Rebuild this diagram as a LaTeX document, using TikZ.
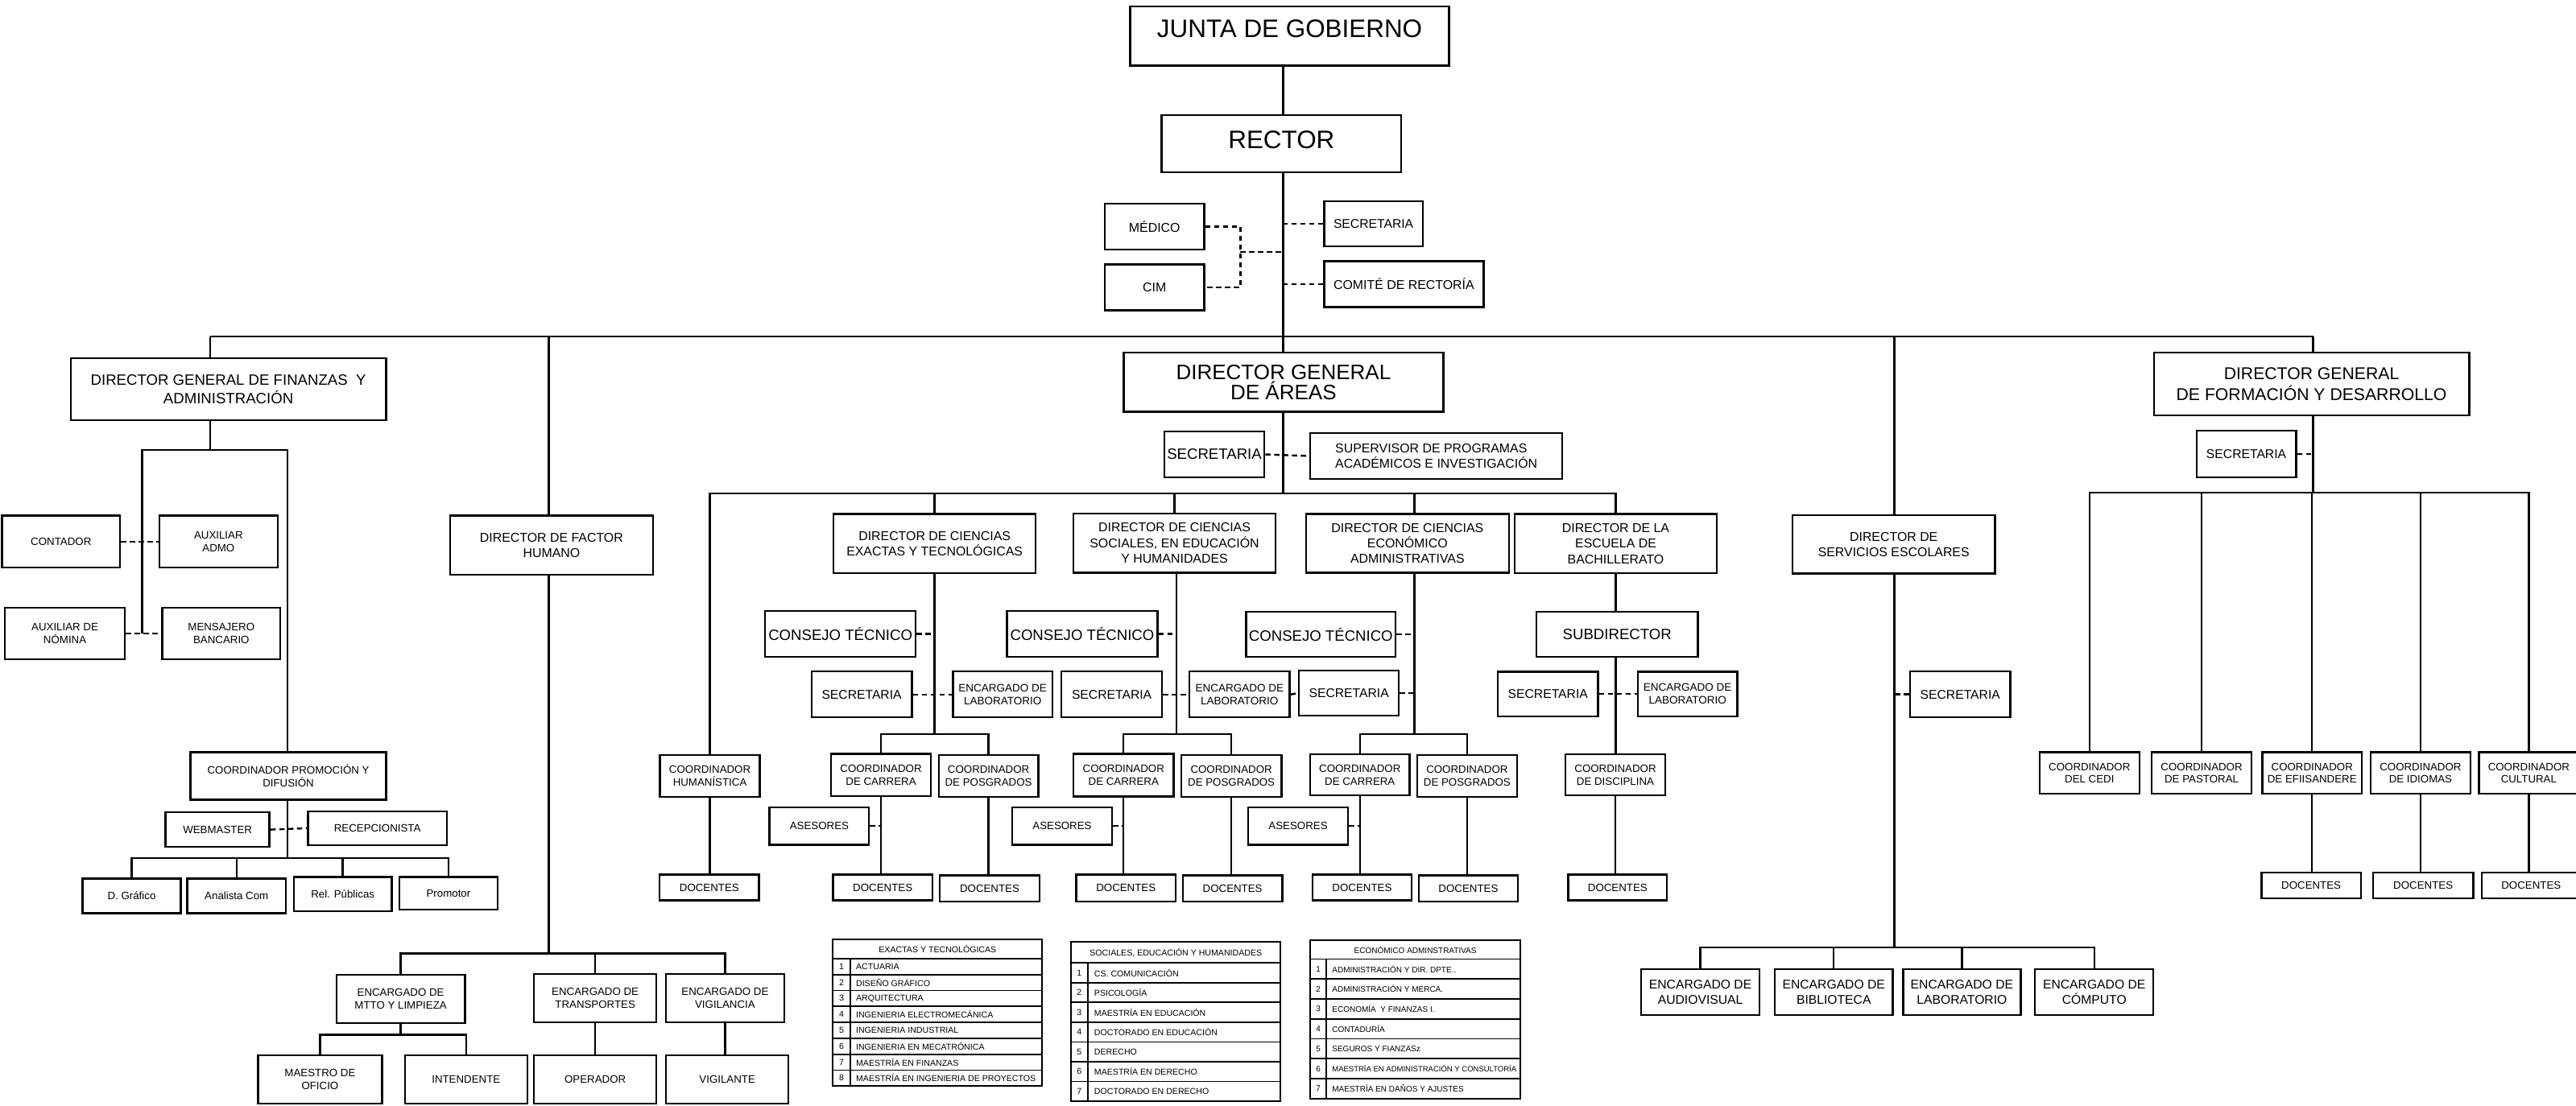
\documentclass[tikz,border=0pt]{standalone}
\usepackage{fontspec}
\setmainfont{Liberation Sans}
% box from corner (x1,y1) to (x2,y2): name, x1, y1, x2, y2, text, style
\newcommand\bx[7]{\node[box,#7,minimum width={(#4-#2)*2.04pt},minimum height={(#5-#3)*2.04pt}] (#1) at ({(#2+#4)/2},{(#3+#5)/2}) {#6};}
\begin{document}
\begin{tikzpicture}[x=2.04pt,y=-2.04pt,
  box/.style={draw,line width=2.4pt,inner sep=0pt,align=center,rectangle},
  ln/.style={line width=2.4pt},
  dsh/.style={line width=2.4pt,dash pattern=on 6.5pt off 4.5pt},
  tl/.style={line width=1.8pt},
  fA/.style={font=\fontsize{31.4pt}{34pt}\selectfont},
  fG/.style={font=\fontsize{26pt}{25.7pt}\selectfont},
  fF/.style={font=\fontsize{21.2pt}{25.3pt}\selectfont},
  fB/.style={font=\fontsize{18.6pt}{22.4pt}\selectfont},
  fM/.style={font=\fontsize{15.9pt}{19.4pt}\selectfont},
  fS/.style={font=\fontsize{15.7pt}{18.8pt}\selectfont},
  fs/.style={font=\fontsize{13.3pt}{15.6pt}\selectfont},
  fl/.style={font=\fontsize{13.5pt}{15.9pt}\selectfont},
  ft/.style={font=\fontsize{10.6pt}{12pt}\selectfont,inner sep=0pt},
  ftc/.style={font=\fontsize{10pt}{12pt}\selectfont,inner sep=0pt},
  ftx/.style={font=\fontsize{9.5pt}{12pt}\selectfont,inner sep=0pt},
]
\useasboundingbox (0,0) rectangle (1568,673);

% ---------- top of the organisation ----------
\bx{junta}{688}{4}{882}{40}{\raisebox{9pt}[\height][\depth]{JUNTA DE GOBIERNO}}{fA}
\bx{rector}{707}{70}{853}{105}{\raisebox{5pt}[\height][\depth]{RECTOR}}{fA}
\bx{medico}{672.5}{124}{733}{152}{MÉDICO}{fM}
\bx{cim}{672.5}{161}{733}{189}{CIM}{fM}
\bx{secR}{806}{122.5}{866}{150}{SECRETARIA}{fS}
\bx{comite}{806}{159}{903}{187}{COMITÉ DE RECTORÍA}{fM}

\coordinate (b1) at (128,205);
\coordinate (b2) at (334,205);
\coordinate (b3) at (781,205);
\coordinate (b4) at (1153,205);
\coordinate (b5) at (1408,205);
\coordinate (jm) at (755,153.5);

% ---------- finance and administration ----------
\bx{dgfa}{43}{218}{235}{256}{DIRECTOR GENERAL DE FINANZAS\ \ Y\\ADMINISTRACIÓN}{fB}
\bx{contador}{1.3}{314}{73}{345.5}{CONTADOR}{fs}
\bx{auxadmo}{97}{314}{169}{345.5}{AUXILIAR\\ADMO}{fs}
\bx{auxnom}{3}{370}{76}{401.5}{AUXILIAR DE\\NÓMINA}{fs}
\bx{mensajero}{98.7}{370}{170.7}{401.5}{MENSAJERO\\BANCARIO}{fs}
\bx{coordprom}{116}{458}{235}{487}{COORDINADOR PROMOCIÓN Y\\DIFUSIÓN}{fs}
\bx{webmaster}{100.8}{494.6}{164}{515.7}{WEBMASTER}{fs}
\bx{recep}{187.4}{494}{272}{514.7}{RECEPCIONISTA}{fs}
\bx{dgraf}{50.3}{535}{110}{556}{D. Gráfico}{fs}
\bx{analista}{114}{535}{174}{556}{Analista Com}{fs}
\bx{relp}{178.8}{534}{238.5}{554.7}{Rel. Públicas}{fs}
\bx{promotor}{243}{534}{303}{554}{Promotor}{fs}

% ---------- human factor ----------
\bx{dfh}{274}{314}{397.4}{350}{DIRECTOR DE FACTOR\\HUMANO}{fM}
\bx{mtto}{204.8}{593.6}{283}{623}{ENCARGADO DE\\MTTO Y LIMPIEZA}{fs}
\bx{transp}{325}{593}{399.6}{622.5}{ENCARGADO DE\\TRANSPORTES}{fs}
\bx{vigil}{405.4}{593}{477.3}{622.5}{ENCARGADO DE\\VIGILANCIA}{fs}
\bx{maestro}{157}{642.5}{232.6}{672}{MAESTRO DE\\OFICIO}{fs}
\bx{intend}{246.4}{642.5}{321}{672}{INTENDENTE}{fs}
\bx{operador}{325}{642.5}{399.6}{672}{OPERADOR}{fs}
\bx{vigilante}{405.4}{642.5}{480}{672}{VIGILANTE}{fs}

% ---------- academic areas ----------
\bx{dga}{684}{214.8}{878.5}{250.8}{DIRECTOR GENERAL\\DE ÁREAS}{fG}
\bx{secA}{708.7}{262.7}{769.6}{290.7}{SECRETARIA}{fB}
\bx{superv}{797.5}{263.7}{951}{291.6}{SUPERVISOR DE PROGRAMAS\\ACADÉMICOS E INVESTIGACIÓN}{fM,align=left}
\bx{coordhum}{401.7}{459.7}{462.5}{485.3}{COORDINADOR\\HUMANÍSTICA}{fs}
\bx{docH}{401.5}{532.6}{462}{548.3}{DOCENTES}{fs}

\bx{dirEx}{507.4}{313}{630.4}{349}{DIRECTOR DE CIENCIAS\\EXACTAS Y TECNOLÓGICAS}{fM}
\bx{cons1}{465.7}{372}{557.4}{400}{CONSEJO TÉCNICO}{fB}
\bx{secE}{494}{408.9}{555}{436.8}{SECRETARIA}{fS}
\bx{labE}{580}{408.9}{640.7}{436.8}{ENCARGADO DE\\LABORATORIO}{fl}
\bx{ccE}{505.8}{459}{566.7}{484.9}{COORDINADOR\\DE CARRERA}{fs}
\bx{cpE}{571.4}{459.7}{632}{485.3}{COORDINADOR\\DE POSGRADOS}{fs}
\bx{asesE}{468.4}{491.5}{529}{514.4}{ASESORES}{fs}
\bx{docE1}{507}{532.6}{567.6}{548.3}{DOCENTES}{fs}
\bx{docE2}{572}{533}{632.8}{549}{DOCENTES}{fs}

\bx{dirSoc}{653.3}{312.7}{776.5}{348.8}{DIRECTOR DE CIENCIAS\\SOCIALES, EN EDUCACIÓN\\Y HUMANIDADES}{fM}
\bx{cons2}{613}{372}{704.5}{400}{CONSEJO TÉCNICO}{fB}
\bx{secS}{646}{408.9}{707.4}{436.8}{SECRETARIA}{fS}
\bx{labS}{724}{408.9}{785}{436.8}{ENCARGADO DE\\LABORATORIO}{fl}
\bx{ccS}{653.5}{459}{714.3}{485}{COORDINADOR\\DE CARRERA}{fs}
\bx{cpS}{719}{459.7}{780}{485.3}{COORDINADOR\\DE POSGRADOS}{fs}
\bx{asesS}{616}{491.5}{677}{514.4}{ASESORES}{fs}
\bx{docS1}{655}{532.6}{715.7}{549}{DOCENTES}{fs}
\bx{docS2}{720}{533}{780.5}{549}{DOCENTES}{fs}

\bx{dirEc}{795}{313}{918.4}{348.8}{DIRECTOR DE CIENCIAS\\ECONÓMICO\\ADMINISTRATIVAS}{fM}
\bx{cons3}{758.5}{372.6}{849.5}{400}{CONSEJO TÉCNICO}{fB}
\bx{secEc}{790.7}{408.4}{851.5}{435.8}{SECRETARIA}{fS}
\bx{ccEc}{797.5}{459.3}{858}{484.4}{COORDINADOR\\DE CARRERA}{fs}
\bx{cpEc}{862.7}{459.7}{923.3}{485.3}{COORDINADOR\\DE POSGRADOS}{fs}
\bx{asesEc}{759.7}{491.5}{820.6}{514.4}{ASESORES}{fs}
\bx{docEc1}{798.8}{532.6}{859.3}{548.3}{DOCENTES}{fs}
\bx{docEc2}{863.5}{533}{924}{549}{DOCENTES}{fs}

\bx{dirBach}{922}{313}{1045}{349}{DIRECTOR DE LA\\ESCUELA DE\\BACHILLERATO}{fM}
\bx{subdir}{935.3}{372.6}{1033.4}{400}{SUBDIRECTOR}{fB}
\bx{secB}{911.8}{409}{972.6}{436.3}{SECRETARIA}{fS}
\bx{labB}{997}{409}{1057.4}{436.3}{ENCARGADO DE\\LABORATORIO}{fl}
\bx{cdisc}{952.8}{459.3}{1013.7}{484.4}{COORDINADOR\\DE DISCIPLINA}{fs}
\bx{docB}{954.6}{532.6}{1014.7}{548.3}{DOCENTES}{fs}

% ---------- school services ----------
\bx{dse}{1091}{313.6}{1214.4}{349.3}{DIRECTOR DE\\SERVICIOS ESCOLARES}{fM}
\bx{secSE}{1162.7}{408.8}{1223.6}{436.8}{SECRETARIA}{fS}
\bx{audio}{999}{590}{1071}{618}{ENCARGADO DE\\AUDIOVISUAL}{fS}
\bx{biblio}{1080.4}{590}{1152}{618}{ENCARGADO DE\\BIBLIOTECA}{fS}
\bx{labor}{1158.4}{590}{1230}{618}{ENCARGADO DE\\LABORATORIO}{fS}
\bx{computo}{1238.7}{590}{1310.8}{618}{ENCARGADO DE\\CÓMPUTO}{fS}

% ---------- formation and development ----------
\bx{dgf}{1311}{214.7}{1503}{253}{DIRECTOR GENERAL\\DE FORMACIÓN Y DESARROLLO}{fF}
\bx{secF}{1337}{262.3}{1397.6}{290.6}{SECRETARIA}{fS}
\bx{cedi}{1241.4}{458}{1302.3}{483.3}{COORDINADOR\\DEL CEDI}{fs}
\bx{pastoral}{1309.8}{458}{1370.4}{483.3}{COORDINADOR\\DE PASTORAL}{fs}
\bx{efii}{1377}{458}{1437.7}{483.3}{COORDINADOR\\DE EFIISANDERE}{fs}
\bx{idiomas}{1443}{458}{1503.7}{483.3}{COORDINADOR\\DE IDIOMAS}{fs}
\bx{cultural}{1509}{458}{1569.5}{483.3}{COORDINADOR\\CULTURAL}{fs}
\bx{docF1}{1376.6}{531.4}{1437}{547}{DOCENTES}{fs}
\bx{docF2}{1444.5}{531.4}{1505.4}{547}{DOCENTES}{fs}
\bx{docF3}{1510.6}{531.4}{1570.8}{547}{DOCENTES}{fs}

% ---------- connectors: top ----------
\draw[ln] (b3 |- junta.south) -- (b3 |- rector.north);
\draw[ln] (b3 |- rector.south) -- (b3 |- dga.north);
\draw[ln] (b1) -- (b5);
\draw[ln] (b1) -- (b1 |- dgfa.north);
\draw[ln] (b2) -- (b2 |- dfh.north);
\draw[ln] (b4) -- (b4 |- dse.north);
\draw[ln] (b5) -- (b5 |- dgf.north);
\draw[dsh] (medico.east) -| (jm) |- (cim.east);
\draw[dsh] (jm) -- (jm -| b3);
\draw[dsh] (secR.west) -- (secR.west -| b3);
\draw[dsh] (comite.west) -- (comite.west -| b3);

% ---------- connectors: finance ----------
\coordinate (fa) at (128,274);
\coordinate (faL) at (86.5,274);
\coordinate (faR) at (175,274);
\coordinate (pd) at (175,522.6);
\draw[ln] (b1 |- dgfa.south) -- (fa);
\draw[ln] (faL |- auxnom.east) -- (faL) -- (faR) -- (faR |- coordprom.north);
\draw[dsh] (contador.east) -- (auxadmo.west);
\draw[dsh] (auxnom.east) -- (mensajero.west);
\draw[ln] (faR |- coordprom.south) -- (pd);
\draw[dsh] (webmaster.east) -- (recep.west);
\draw[ln] (dgraf.north) -- (dgraf.north |- pd) -- (promotor.north |- pd) -- (promotor.north);
\draw[ln] (analista.north) -- (analista.north |- pd);
\draw[ln] (relp.north) -- (relp.north |- pd);

% ---------- connectors: human factor ----------
\coordinate (ph) at (334,580.5);
\coordinate (mb) at (244,630);
\draw[ln] (b2 |- dfh.south) -- (ph);
\draw[ln] (mtto.north) -- (mtto.north |- ph) -- (vigil.north |- ph) -- (vigil.north);
\draw[ln] (transp.north) -- (transp.north |- ph);
\draw[ln] (mtto.south) -- (mtto.south |- mb);
\draw[ln] (maestro.north) -- (maestro.north |- mb) -- (intend.north |- mb) -- (intend.north);
\draw[ln] (transp.south) -- (transp.south |- operador.north);
\draw[ln] (vigil.south) -- (vigil.south |- vigilante.north);

% ---------- connectors: academic areas ----------
\coordinate (ab) at (781,300.5);
\coordinate (ec) at (861,300.5);
\draw[ln] (b3 |- dga.south) -- (ab);
\draw[dsh] (secA.east) -- (superv.west);
\draw[ln] (coordhum.north) -- (coordhum.north |- ab) -- (dirBach.north |- ab) -- (dirBach.north);
\draw[ln] (dirEx.north) -- (dirEx.north |- ab);
\draw[ln] (dirSoc.north) -- (dirSoc.north |- ab);
\draw[ln] (ec) -- (ec |- dirEc.north);
\draw[ln] (coordhum.south) -- (coordhum.south |- docH.north);

\coordinate (eb) at (568.6,447);
\draw[ln] (dirEx.south) -- (dirEx.south |- eb);
\draw[dsh] (cons1.east) -- (cons1.east -| dirEx.south);
\draw[dsh] (secE.east) -- (labE.west);
\draw[ln] (ccE.north) -- (ccE.north |- eb) -- (cpE.north |- eb) -- (cpE.north);
\draw[dsh] (asesE.east) -- (asesE.east -| ccE.south);
\draw[ln] (ccE.south) -- (ccE.south |- docE1.north);
\draw[ln] (cpE.south) -- (cpE.south |- docE2.north);

\coordinate (sb) at (716,447);
\draw[ln] (sb |- dirSoc.south) -- (sb);
\draw[dsh] (cons2.east) -- (cons2.east -| sb);
\draw[dsh] (secS.east) -- (labS.west);
\draw[ln] (ccS.north) -- (ccS.north |- sb) -- (cpS.north |- sb) -- (cpS.north);
\draw[dsh] (asesS.east) -- (asesS.east -| ccS.south);
\draw[ln] (ccS.south) -- (ccS.south |- docS1.north);
\draw[ln] (cpS.south) -- (cpS.south |- docS2.north);
\draw[dsh] (labS.east) -- (secEc.west);

\coordinate (ecb) at (861,447);
\draw[ln] (ec |- dirEc.south) -- (ecb);
\draw[dsh] (cons3.east) -- (cons3.east -| ec);
\draw[dsh] (secEc.east) -- (secEc.east -| ec);
\draw[ln] (ccEc.north) -- (ccEc.north |- ecb) -- (cpEc.north |- ecb) -- (cpEc.north);
\draw[dsh] (asesEc.east) -- (asesEc.east -| ccEc.south);
\draw[ln] (ccEc.south) -- (ccEc.south |- docEc1.north);
\draw[ln] (cpEc.south) -- (cpEc.south |- docEc2.north);

\draw[ln] (dirBach.south) -- (dirBach.south |- subdir.north);
\draw[ln] (dirBach.south |- subdir.south) -- (dirBach.south |- cdisc.north);
\draw[dsh] (secB.east) -- (labB.west);
\draw[ln] (cdisc.south) -- (cdisc.south |- docB.north);

% ---------- connectors: school services ----------
\coordinate (seb) at (1153,577);
\draw[ln] (b4 |- dse.south) -- (seb);
\draw[dsh] (secSE.west) -- (secSE.west -| b4);
\draw[ln] (audio.north) -- (audio.north |- seb) -- (computo.north |- seb) -- (computo.north);
\draw[ln] (biblio.north) -- (biblio.north |- seb);
\draw[ln] (labor.north) -- (labor.north |- seb);

% ---------- connectors: formation ----------
\coordinate (fb) at (1408,300);
\draw[ln] (b5 |- dgf.south) -- (fb);
\draw[dsh] (secF.east) -- (secF.east -| b5);
\draw[ln] (cedi.north) -- (cedi.north |- fb) -- (cultural.north |- fb) -- (cultural.north);
\draw[ln] (pastoral.north) -- (pastoral.north |- fb);
\draw[ln] (efii.north) -- (efii.north |- fb);
\draw[ln] (idiomas.north) -- (idiomas.north |- fb);
\draw[ln] (efii.south) -- (efii.south |- docF1.north);
\draw[ln] (idiomas.south) -- (idiomas.south |- docF2.north);
\draw[ln] (cultural.south) -- (cultural.south |- docF3.north);

% ---------- programme tables ----------
% exact sciences
\draw[tl] (507,572) rectangle (634.4,661.3);
\foreach \k in {0,...,7} \draw[tl] (507,{583.7+\k*9.7}) -- (634.4,{583.7+\k*9.7});
\draw[tl] (517.4,583.7) -- (517.4,661.3);
\node[ft] (t1h) at (570.7,577.85) {EXACTAS Y TECNOLÓGICAS};
\foreach \t [count=\i] in {ACTUARIA,DISEÑO GRÁFICO,ARQUITECTURA,INGENIERIA ELECTROMECÁNICA,INGENIERIA INDUSTRIAL,INGENIERIA EN MECATRÓNICA,MAESTRÍA EN FINANZAS,MAESTRÍA EN INGENIERIA DE PROYECTOS}{
  \node[ft,anchor=west] (t1r\i) at (521,{583.7+(\i-0.5)*9.7}) {\t};
  \node[ft] (t1n\i) at (512.2,{583.7+(\i-0.5)*9.7}) {\i};
}
% social sciences
\draw[tl] (652,573.5) rectangle (779.5,670.6);
\foreach \k in {0,...,6} \draw[tl] (652,{586.3+\k*12.04}) -- (779.5,{586.3+\k*12.04});
\draw[tl] (662,586.3) -- (662,670.6);
\node[ft] (t2h) at (715.75,579.9) {SOCIALES, EDUCACIÓN Y HUMANIDADES};
\foreach \t [count=\i] in {CS. COMUNICACIÓN,PSICOLOGÍA,MAESTRÍA EN EDUCACIÓN,DOCTORADO EN EDUCACIÓN,DERECHO,MAESTRÍA EN DERECHO,DOCTORADO EN DERECHO}{
  \node[ft,anchor=west] (t2r\i) at (666,{586.3+(\i-0.5)*12.04}) {\t};
  \node[ft] (t2n\i) at (657,{586.3+(\i-0.5)*12.04}) {\i};
}
% economic and administrative sciences
\draw[tl] (797.5,572.6) rectangle (925.5,669);
\foreach \k in {0,...,6} \draw[tl] (797.5,{584+\k*12.14}) -- (925.5,{584+\k*12.14});
\draw[tl] (807.4,584) -- (807.4,669);
\node[ftc] (t3h) at (861.5,578.3) {ECONÓMICO ADMINSTRATIVAS};
\foreach \t/\f [count=\i] in {ADMINISTRACIÓN Y DIR. DPTE../ftc,ADMINISTRACIÓN Y MERCA./ftc,ECONOMÍA\ \ Y FINANZAS I./ftc,CONTADURÍA/ftc,SEGUROS Y FIANZASz/ftc,MAESTRÍA EN ADMINISTRACIÓN Y CONSULTORÍA/ftx,MAESTRÍA EN DAÑOS Y AJUSTES/ftc}{
  \node[\f,anchor=west] (t3r\i) at (810.8,{584+(\i-0.5)*12.14}) {\t};
  \node[ftc] (t3n\i) at (802.4,{584+(\i-0.5)*12.14}) {\i};
}
\end{tikzpicture}
\end{document}
